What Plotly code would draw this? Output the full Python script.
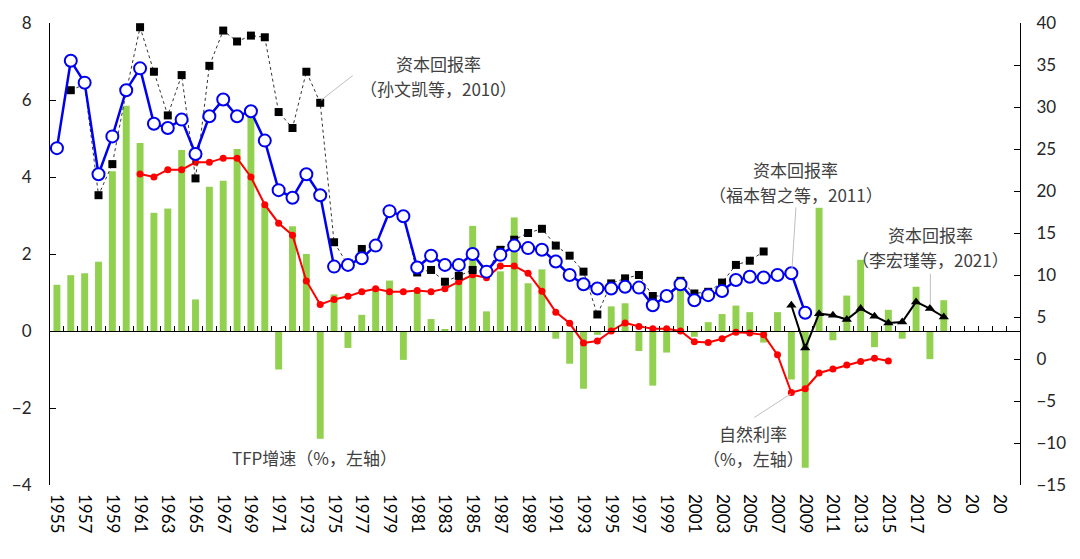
import plotly.graph_objects as go

years = [str(y) for y in range(1955, 2025)]

# x tick labels (every other year, as visible in the reference)
tick_years = [str(y) for y in range(1955, 2025, 2)]
tick_labels = [str(y) for y in range(1955, 2019, 2)] + ["20", "20", "20"]

# TFP growth (%, left axis), 1955-2019
tfp = [1.2, 1.45, 1.5, 1.8, 4.15, 5.85, 4.88, 3.07, 3.18, 4.7,
       0.82, 3.75, 3.9, 4.73, 5.57, 3.25, -1.0, 2.72, 2.0, -2.8,
       0.95, -0.44, 0.42, 1.08, 1.31, -0.75, 1.05, 0.31, 0.04, 1.3,
       2.73, 0.51, 1.55, 2.95, 1.24, 1.6, -0.2, -0.85, -1.5, -0.1,
       0.64, 0.72, -0.52, -1.42, -0.56, 1.41, -0.15, 0.23, 0.44, 0.66,
       0.49, -0.3, 0.49, -1.26, -3.55, 3.2, -0.24, 0.92, 1.85, -0.42,
       0.55, -0.2, 1.15, -0.73, 0.8] + [None] * 5

# Natural rate (%, left axis), 1961-2015
natural = [None] * 6 + [
    4.08, 4.0, 4.19, 4.19, 4.38, 4.38, 4.49, 4.49, 4.0, 3.28,
    2.8, 2.49, 1.3, 0.69, 0.82, 0.9, 1.02, 1.1, 1.02, 1.02,
    1.05, 1.02, 1.1, 1.28, 1.46, 1.38, 1.69, 1.69, 1.5, 1.03,
    0.49, 0.2, -0.31, -0.26, 0.0, 0.21, 0.12, 0.06, 0.06, 0.0,
    -0.28, -0.3, -0.2, -0.03, -0.05, -0.1, -0.62, -1.6, -1.5, -1.09,
    -0.99, -0.88, -0.79, -0.71, -0.78] + [None] * 9

# Capital return (Fukumoto et al., 2011; right axis), 1955-2009
ret_fukumoto = [25.1, 35.5, 32.9, 22.0, 26.5, 32.0, 34.6, 28.0, 27.5, 28.5,
                24.4, 28.9, 30.9, 28.9, 29.5, 26.0, 20.1, 19.2, 22.0, 19.5,
                11.0, 11.2, 12.0, 13.5, 17.6, 17.0, 10.9, 12.3, 11.2, 11.2,
                12.5, 10.4, 12.4, 13.5, 13.2, 13.0, 11.6, 10.0, 8.9, 8.4,
                8.4, 8.6, 8.5, 6.4, 7.5, 8.9, 7.0, 7.6, 8.1, 9.4,
                9.8, 9.7, 10.0, 10.2, 5.5] + [None] * 15

# Capital return (Sun Wenkai et al., 2010; right axis), 1956-2006
ret_sun = [None] + [
    32.0, 32.7, 19.5, 23.2, 31.8, 39.5, 34.2, 29.0, 33.8, 21.5,
    34.9, 39.1, 37.8, 38.5, 38.3, 29.4, 27.5, 34.2, 30.5, 13.9,
    11.2, 13.1, 13.5, 17.6, 17.0, 10.3, 10.6, 9.2, 9.9, 10.6,
    10.4, 13.0, 14.2, 15.0, 15.5, 13.5, 12.3, 10.4, 5.3, 9.0,
    9.6, 10.0, 7.5, 7.5, 9.3, 7.8, 8.0, 9.1, 11.2, 11.7, 12.8] + [None] * 18

# Capital return (Li Hongjin et al., 2021; right axis), 2008-2019
ret_li = [None] * 53 + [6.4, 1.3, 5.4, 5.2, 4.7, 6.0, 5.1, 4.3, 4.4, 6.8, 6.0, 5.0] + [None] * 5

FONT = "Lato, Noto Sans CJK SC, sans-serif"
CJK = "Noto Sans CJK SC, sans-serif"

fig = go.Figure()
fig.add_trace(go.Bar(x=years, y=tfp, marker_color="#92D050", marker_line_width=0,
                     xaxis="x", yaxis="y", name="TFP"))
fig.add_trace(go.Scatter(x=years, y=ret_sun, mode="lines+markers", yaxis="y2",
                         line=dict(color="#333333", width=1, dash="dot"),
                         marker=dict(symbol="square", size=8, color="black"),
                         connectgaps=False, name="sun"))
fig.add_trace(go.Scatter(x=years, y=ret_li, mode="lines+markers", yaxis="y2",
                         line=dict(color="black", width=2),
                         marker=dict(symbol="triangle-up", size=9, color="black"),
                         name="li"))
fig.add_trace(go.Scatter(x=years, y=ret_fukumoto, mode="lines+markers", yaxis="y2",
                         line=dict(color="#0000F0", width=2.5),
                         marker=dict(symbol="circle", size=12, color="white",
                                     line=dict(color="#0000F0", width=2)),
                         name="fukumoto"))
fig.add_trace(go.Scatter(x=years, y=natural, mode="lines+markers", yaxis="y",
                         line=dict(color="#FF0000", width=2),
                         marker=dict(symbol="circle", size=7, color="#FF0000"),
                         name="natural"))
# helper trace so the zero-crossing category axis (x2) is drawn
fig.add_trace(go.Scatter(x=years, y=[None] * len(years), xaxis="x2", yaxis="y",
                         mode="markers", showlegend=False, hoverinfo="skip"))

fig.update_layout(
    width=1080, height=559,
    margin=dict(l=46, r=60, t=19, b=74),
    plot_bgcolor="white", paper_bgcolor="white",
    showlegend=False, bargap=0.5,
    font=dict(family=FONT, size=16, color="#262626"),
    xaxis=dict(type="category", categoryorder="array", categoryarray=years,
               range=[-0.5, len(years) - 0.5],
               tickmode="array", tickvals=tick_years, ticktext=tick_labels,
               tickangle=90, ticks="", showline=False, showgrid=False, zeroline=False,
               ticklabelstandoff=8,
               tickfont=dict(family=FONT, size=17, color="black")),
    xaxis2=dict(type="category", categoryorder="array", categoryarray=years,
                range=[-0.5, len(years) - 0.5], overlaying="x", anchor="free",
                position=4 / 12, showline=True, linecolor="black", linewidth=1.2,
                ticks="inside", ticklen=5, tickcolor="black", tickson="boundaries",
                dtick=1, showticklabels=False, showgrid=False, zeroline=False),
    yaxis=dict(range=[-4, 8], dtick=2, showline=True, linecolor="black", linewidth=1.2,
               ticks="inside", ticklen=6, tickcolor="black", showgrid=False,
               zeroline=False, ticklabelstandoff=14,
               tickfont=dict(family=FONT, size=17, color="#262626")),
    yaxis2=dict(range=[-15, 40], dtick=5, overlaying="y", side="right", anchor="x",
                showline=True, linecolor="black", linewidth=1.2,
                ticks="inside", ticklen=6, tickcolor="black", showgrid=False,
                zeroline=False, ticklabelstandoff=12,
                tickfont=dict(family=FONT, size=17, color="#262626")),
)

def px_to_paper(px, py):
    return (px - 46) / 974, 1 - (py - 19) / 466

ann_color = "#404040"
notes = [
    ("资本回报率", 436, 60),
    ("（孙文凯等，2010）", 436, 85),
    ("资本回报率", 795, 167),
    ("（福本智之等，2011）", 795, 192),
    ("资本回报率", 930, 232),
    ("（李宏瑾等，2021）", 930, 258),
    ("TFP增速（%，左轴）", 312, 457),
    ("自然利率", 752, 433),
    ("（%，左轴）", 752, 458),
]
for text, px, py in notes:
    xp, yp = px_to_paper(px, py)
    fig.add_annotation(text=text, x=xp, y=yp, xref="paper", yref="paper",
                       xanchor="center", yanchor="middle",
                       showarrow=False, align="center",
                       font=dict(family=CJK, size=17, color=ann_color))

leaders = [((318, 97), (350, 72)), ((795, 205), (791, 267)),
           ((930, 272), (930, 303)), ((753, 417), (790, 393))]
for (a, b) in leaders:
    x0, y0 = px_to_paper(*a)
    x1, y1 = px_to_paper(*b)
    fig.add_shape(type="line", x0=x0, y0=y0, x1=x1, y1=y1, xref="paper", yref="paper",
                  line=dict(color="#BFBFBF", width=1))

fig.write_html("out.html")
